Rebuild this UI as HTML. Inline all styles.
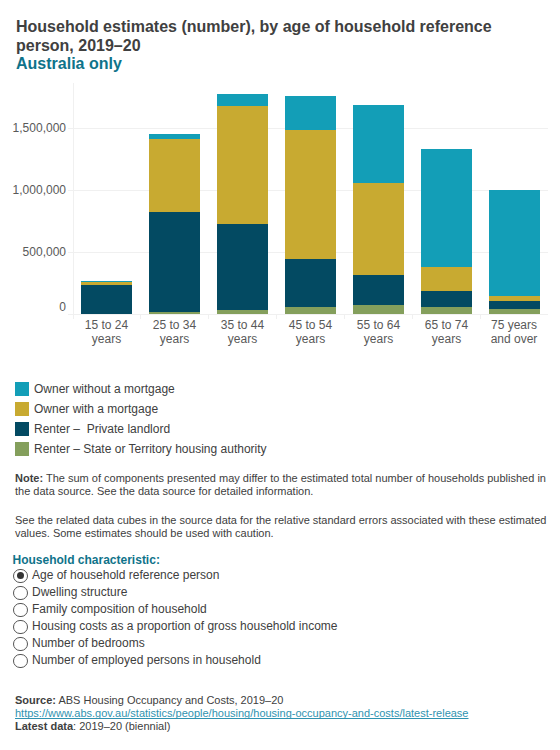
<!DOCTYPE html>
<html><head><meta charset="utf-8">
<style>
html,body{margin:0;padding:0;background:#fff;}
body{width:560px;height:750px;position:relative;overflow:hidden;font-family:"Liberation Sans",sans-serif;}
.a{position:absolute;white-space:nowrap;}
.title{left:16px;font-size:16px;font-weight:bold;color:#404040;}
.sub{left:16px;font-size:16px;font-weight:bold;color:#0f738a;}
.yl{font-size:12px;color:#595959;text-align:right;right:494px;}
.xl{font-size:12px;color:#595959;text-align:center;width:68px;line-height:14px;}
.lg{left:15px;width:14px;height:14px;}
.lt{left:34px;font-size:12px;color:#404040;}
.note{left:15px;font-size:11px;color:#404040;}
.hc{left:12.5px;font-size:12px;font-weight:bold;color:#0f738a;}
.r{left:13.3px;width:14.4px;height:14.4px;border:1.3px solid #555;border-radius:50%;box-sizing:border-box;}
.r.on::after{content:"";position:absolute;left:2.3px;top:2.3px;width:7px;height:7px;border-radius:50%;background:#333;}
.rt{left:32px;font-size:12px;color:#404040;}
.src{left:15px;font-size:11px;color:#404040;}
.lnk{color:#2f93b0;text-decoration:underline;text-decoration-skip-ink:none;text-decoration-thickness:1px;}
</style></head><body>
<div class="a title" style="top:18px;">Household estimates (number), by age of household reference</div>
<div class="a title" style="top:37px;">person, 2019–20</div>
<div class="a sub" style="top:55px;">Australia only</div>

<svg class="a" style="left:0;top:0" width="560" height="360" shape-rendering="crispEdges">
  <g stroke="#f0f0f0" stroke-width="1">
    <line x1="68" y1="128.5" x2="548" y2="128.5"/>
    <line x1="68" y1="190.5" x2="548" y2="190.5"/>
    <line x1="68" y1="252.5" x2="548" y2="252.5"/>
    <line x1="73.5" y1="83" x2="73.5" y2="319"/>
  </g>
  <g stroke="#f0f0f0" stroke-width="1">
    <line x1="68" y1="314.5" x2="548" y2="314.5"/>
    <line x1="140.5" y1="314" x2="140.5" y2="319"/>
    <line x1="208.5" y1="314" x2="208.5" y2="319"/>
    <line x1="276.5" y1="314" x2="276.5" y2="319"/>
    <line x1="344.5" y1="314" x2="344.5" y2="319"/>
    <line x1="412.5" y1="314" x2="412.5" y2="319"/>
    <line x1="480.5" y1="314" x2="480.5" y2="319"/>
  </g>
  <g id="bars"><rect x="81" y="281" width="51" height="1" fill="#139eb7"/><rect x="81" y="282" width="51" height="3" fill="#c8aa31"/><rect x="81" y="285" width="51" height="28.5" fill="#034a62"/><rect x="81" y="313.5" width="51" height="0.5" fill="#849f5c"/><rect x="149" y="134" width="51" height="5" fill="#139eb7"/><rect x="149" y="139" width="51" height="72.75" fill="#c8aa31"/><rect x="149" y="211.75" width="51" height="100.25" fill="#034a62"/><rect x="149" y="312" width="51" height="2" fill="#849f5c"/><rect x="217" y="94" width="51" height="12" fill="#139eb7"/><rect x="217" y="106" width="51" height="118" fill="#c8aa31"/><rect x="217" y="224" width="51" height="86" fill="#034a62"/><rect x="217" y="310" width="51" height="4" fill="#849f5c"/><rect x="285" y="96" width="51" height="34" fill="#139eb7"/><rect x="285" y="130" width="51" height="129" fill="#c8aa31"/><rect x="285" y="259" width="51" height="48" fill="#034a62"/><rect x="285" y="307" width="51" height="7" fill="#849f5c"/><rect x="353" y="105" width="51" height="78" fill="#139eb7"/><rect x="353" y="183" width="51" height="92" fill="#c8aa31"/><rect x="353" y="275" width="51" height="29.75" fill="#034a62"/><rect x="353" y="304.75" width="51" height="9.25" fill="#849f5c"/><rect x="421" y="149" width="51" height="118" fill="#139eb7"/><rect x="421" y="267" width="51" height="24" fill="#c8aa31"/><rect x="421" y="291" width="51" height="16" fill="#034a62"/><rect x="421" y="307" width="51" height="7" fill="#849f5c"/><rect x="489" y="190" width="51" height="106" fill="#139eb7"/><rect x="489" y="296" width="51" height="5" fill="#c8aa31"/><rect x="489" y="301" width="51" height="8" fill="#034a62"/><rect x="489" y="309" width="51" height="5" fill="#849f5c"/></g>
</svg>

<div class="a yl" style="top:121px;">1,500,000</div>
<div class="a yl" style="top:183px;">1,000,000</div>
<div class="a yl" style="top:245px;">500,000</div>
<div class="a yl" style="top:300px;">0</div>

<div class="a xl" style="left:72.5px;top:318px;">15 to 24<br>years</div>
<div class="a xl" style="left:140.5px;top:318px;">25 to 34<br>years</div>
<div class="a xl" style="left:208.5px;top:318px;">35 to 44<br>years</div>
<div class="a xl" style="left:276.5px;top:318px;">45 to 54<br>years</div>
<div class="a xl" style="left:344.5px;top:318px;">55 to 64<br>years</div>
<div class="a xl" style="left:412.5px;top:318px;">65 to 74<br>years</div>
<div class="a xl" style="left:480px;top:318px;">75 years<br>and over</div>

<div class="a lg" style="top:382px;background:#139eb7;"></div>
<div class="a lt" style="top:382px;">Owner without a mortgage</div>
<div class="a lg" style="top:402px;background:#c8aa31;"></div>
<div class="a lt" style="top:402px;">Owner with a mortgage</div>
<div class="a lg" style="top:422px;background:#034a62;"></div>
<div class="a lt" style="top:422px;">Renter –&nbsp; Private landlord</div>
<div class="a lg" style="top:442px;background:#849f5c;"></div>
<div class="a lt" style="top:442px;">Renter – State or Territory housing authority</div>

<div class="a note" style="top:472px;"><b>Note:</b> The sum of components presented may differ to the estimated total number of households published in</div>
<div class="a note" style="top:485px;">the data source. See the data source for detailed information.</div>
<div class="a note" style="top:514px;">See the related data cubes in the source data for the relative standard errors associated with these estimated</div>
<div class="a note" style="top:527px;">values. Some estimates should be used with caution.</div>

<div class="a hc" style="top:553px;">Household characteristic:</div>
<div class="a r on" style="top:568.5px;"></div>
<div class="a rt" style="top:568px;">Age of household reference person</div>
<div class="a r" style="top:585.5px;"></div>
<div class="a rt" style="top:585px;">Dwelling structure</div>
<div class="a r" style="top:602.5px;"></div>
<div class="a rt" style="top:602px;">Family composition of household</div>
<div class="a r" style="top:619.5px;"></div>
<div class="a rt" style="top:619px;">Housing costs as a proportion of gross household income</div>
<div class="a r" style="top:636.5px;"></div>
<div class="a rt" style="top:636px;">Number of bedrooms</div>
<div class="a r" style="top:653.5px;"></div>
<div class="a rt" style="top:653px;">Number of employed persons in household</div>

<div class="a src" style="top:694px;"><b>Source:</b> ABS Housing Occupancy and Costs, 2019–20</div>
<div class="a src lnk" style="top:707px;">https://www.abs.gov.au/statistics/people/housing/housing-occupancy-and-costs/latest-release</div>
<div class="a src" style="top:720px;"><b>Latest data</b>: 2019–20 (biennial)</div>
</body></html>
